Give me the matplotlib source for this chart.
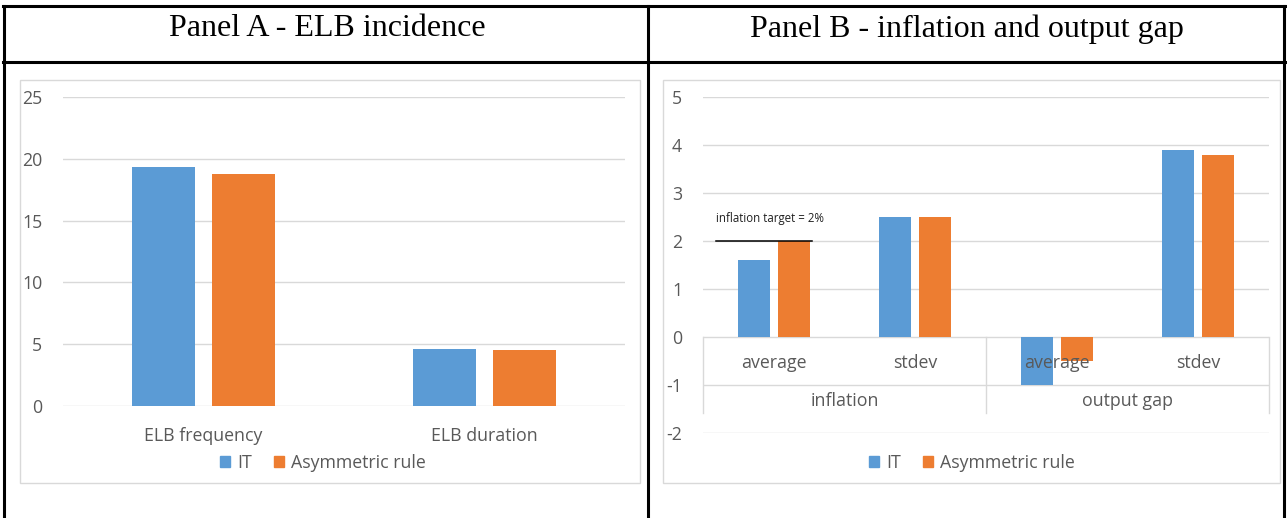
import matplotlib.pyplot as plt
from matplotlib.lines import Line2D
from matplotlib.patches import Rectangle, Patch

plt.rcParams["axes.unicode_minus"] = False

# Panel A data
elb_cats = ["ELB frequency", "ELB duration"]
elb_it = [19.3, 4.6]
elb_asym = [18.8, 4.5]

# Panel B data
sub_cats = ["average", "stdev", "average", "stdev"]
group_cats = ["inflation", "output gap"]
pb_it = [1.6, 2.5, -1.0, 3.9]
pb_asym = [2.0, 2.5, -0.5, 3.8]
inflation_target = 2.0

series_names = ["IT", "Asymmetric rule"]
BLUE = "#5B9BD5"
ORANGE = "#ED7D31"
GRID = "#D9D9D9"
TXT = "#595959"

W, H = 1287, 518
fig = plt.figure(figsize=(W / 100, H / 100), dpi=100)


def fx(px):
    return px / W


def fy(py):
    return 1 - py / H


def hline(x0, x1, y, **kw):
    fig.add_artist(Line2D([fx(x0), fx(x1)], [fy(y), fy(y)], transform=fig.transFigure, **kw))


def vline(x, y0, y1, **kw):
    fig.add_artist(Line2D([fx(x), fx(x)], [fy(y0), fy(y1)], transform=fig.transFigure, **kw))


# table lines
tbl = dict(color="black", lw=2.2)
hline(3, 1285, 6, **tbl)
hline(3, 1285, 62, **tbl)
vline(4, 6, 518, **tbl)
vline(648, 6, 518, **tbl)
vline(1284, 6, 518, **tbl)

fig.text(fx(327), fy(29), "Panel A - ELB incidence", ha="center", va="center",
         family="Liberation Serif", fontsize=23)
fig.text(fx(967), fy(29), "Panel B - inflation and output gap", ha="center", va="center",
         family="Liberation Serif", fontsize=23)

# chart frames
for x0, x1 in [(20, 640), (663, 1280)]:
    fig.add_artist(Rectangle((fx(x0), fy(483)), fx(x1) - fx(x0), fy(80) - fy(483),
                             transform=fig.transFigure, fill=False, ec=GRID, lw=1))

FONT = "Open Sans"
FS = 12.8
bw = 0.225
off = 0.141


def style_axes(ax):
    for s in ax.spines.values():
        s.set_visible(False)
    ax.grid(axis="y", color=GRID, lw=1)
    ax.set_axisbelow(True)
    ax.tick_params(axis="y", length=0, pad=15, labelsize=FS, labelcolor=TXT)
    ax.tick_params(axis="x", length=0)
    for lab in ax.get_yticklabels():
        lab.set_family(FONT)


# ---- Panel A ----
axA = fig.add_axes([fx(63), fy(406), fx(625) - fx(63), fy(97) - fy(406)])
xa = range(len(elb_cats))
axA.bar([i - off for i in xa], elb_it, bw, color=BLUE)
axA.bar([i + off for i in xa], elb_asym, bw, color=ORANGE)
axA.set_xlim(-0.5, 1.5)
axA.set_ylim(0, 25)
axA.set_yticks(range(0, 26, 5))
axA.set_xticks(list(xa))
axA.set_xticklabels(elb_cats, family=FONT, fontsize=FS, color=TXT)
axA.tick_params(axis="x", pad=15)
style_axes(axA)

# ---- Panel B ----
axB = fig.add_axes([fx(703), fy(433), fx(1269) - fx(703), fy(97) - fy(433)])
xb = range(len(sub_cats))
axB.bar([i - off for i in xb], pb_it, bw, color=BLUE, zorder=2)
axB.bar([i + off for i in xb], pb_asym, bw, color=ORANGE, zorder=2)
axB.set_xlim(-0.5, 3.5)
axB.set_ylim(-2, 5)
axB.set_yticks(range(-2, 6))
axB.set_xticks([])
style_axes(axB)

# multi-level category axis
for i, lab in enumerate(sub_cats):
    axB.text(i, -0.55, lab, ha="center", va="center", family=FONT, fontsize=FS,
             color=TXT, zorder=3)
for g, lab in enumerate(group_cats):
    axB.text(2 * g + 0.5, -1.33, lab, ha="center", va="center", family=FONT,
             fontsize=FS, color=TXT, zorder=3)
for xv in [-0.5, 1.5, 3.5]:
    axB.plot([xv, xv], [0, -1.58], color=GRID, lw=1, clip_on=False, zorder=1)

# inflation target marker
axB.plot([-0.41, 0.27], [inflation_target, inflation_target], color="black", lw=1.1, zorder=3)
axB.text(-0.41, inflation_target + 0.34, "inflation target = 2%", ha="left", va="bottom",
         family=FONT, fontsize=8.3, color="#202020")

# legends
handles = [Patch(color=BLUE, label=series_names[0]), Patch(color=ORANGE, label=series_names[1])]
for cx in [323, 972]:
    fig.legend(handles=handles, loc="center", bbox_to_anchor=(fx(cx), fy(463)), ncol=2,
               frameon=False, handlelength=0.6, handleheight=0.6, handletextpad=0.4,
               columnspacing=1.2, prop={"family": FONT, "size": FS}, labelcolor=TXT)

fig.savefig("out.png", dpi=100)
